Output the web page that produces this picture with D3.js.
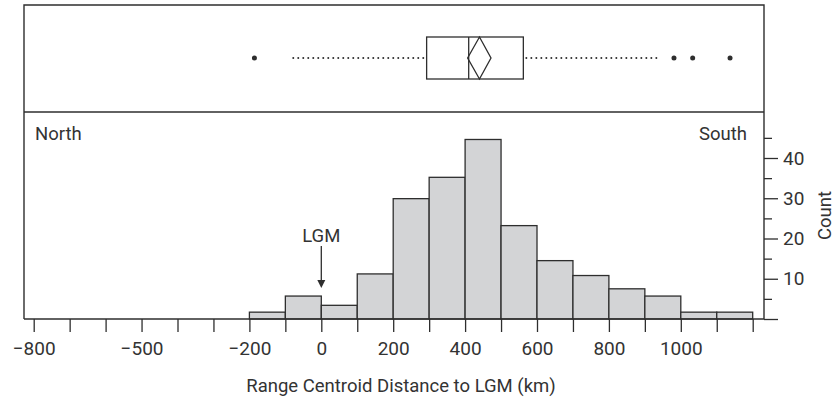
<!DOCTYPE html>
<html><head><meta charset="utf-8">
<script src="https://cdn.jsdelivr.net/npm/d3@7"></script>
<style>
body{margin:0;background:#fff}
text{font-family:Roboto,"DejaVu Sans",sans-serif;fill:#333;}
</style>
</head><body>
<svg id="c" width="835" height="400"></svg>
<script>
// ---- data ----
const binStarts = [-200,-100,0,100,200,300,400,500,600,700,800,900,1000,1100];
const binWidth = 100;
const counts = [1.7,5.7,3.4,11.2,29.9,35.2,44.6,23.2,14.5,10.8,7.5,5.7,1.7,1.7];
const xTickValues = d3.range(-800, 1201, 100);
const xTickLabels = [-800,-500,-200,0,200,400,600,800,1000];
const yTickValues = d3.range(0, 46, 5);
const yTickLabels = [10,20,30,40];
const boxQuartiles = [293, 410, 562];      // Q1, median, Q3
const whiskerEnds = [-78, 933];
const meanDiamond = [407, 440, 472];        // lower CI, mean, upper CI
const outliers = [-186, 981, 1033, 1137];
const sideLabels = ["North", "South"];
const lgmValue = 0;

// ---- layout ----
const svg = d3.select("#c");
const L = 24, R = 764, T = 5, D = 112, B = 319;
const x = d3.scaleLinear([-800, 1200], [33.7, 752.7]);
const y = d3.scaleLinear([0, 40], [319, 158]);
const ink = "#2e2e2e";
const fs = 18.5, tfs = 19;

// bars
svg.append("g").selectAll("rect").data(binStarts).join("rect")
  .attr("x", d => x(d))
  .attr("width", d => x(d + binWidth) - x(d))
  .attr("y", (d, i) => y(counts[i]))
  .attr("height", (d, i) => y(0) - y(counts[i]))
  .attr("fill", "#d3d4d6")
  .attr("stroke", ink).attr("stroke-width", 1.3);

// frame
const frame = svg.append("g").attr("stroke", ink).attr("stroke-width", 1.4).attr("fill", "none");
frame.append("path").attr("d", `M${L},${B}V${T}H${R}V${B}`);
frame.append("path").attr("d", `M${L},${D}H${R}`);
frame.append("path").attr("d", `M${L},${B}H${R}`);

// x axis
const xAxis = d3.axisBottom(x).tickValues(xTickValues).tickSize(13).tickPadding(10)
  .tickFormat(d => xTickLabels.includes(d) ? d3.format("")(d) : "");
const gx = svg.append("g").attr("transform", `translate(0,${B})`).call(xAxis);
gx.select(".domain").remove();
gx.selectAll(".tick line").attr("stroke", ink).attr("stroke-width", 1.3);
gx.selectAll(".tick text").attr("font-size", tfs).attr("font-family", "Roboto").attr("fill", "#333");

// y axis (right)
const yAxis = d3.axisRight(y).tickValues(yTickValues).tickSize(14).tickPadding(5)
  .tickFormat(d => yTickLabels.includes(d) ? d : "");
const gy = svg.append("g").attr("transform", `translate(${R},0)`).call(yAxis);
gy.select(".domain").remove();
gy.selectAll(".tick line").attr("stroke", ink).attr("stroke-width", 1.3)
  .attr("x2", d => (d % 10 === 0) ? 14 : 8);
gy.selectAll(".tick text").attr("font-size", tfs).attr("font-family", "Roboto").attr("fill", "#333");

// axis titles
svg.append("text").attr("x", 401).attr("y", 392).attr("text-anchor", "middle")
  .attr("font-size", fs).text("Range Centroid Distance to LGM (km)");
svg.append("text").attr("transform", `translate(831,${(D + B) / 2}) rotate(-90)`)
  .attr("text-anchor", "middle").attr("font-size", fs).text("Count");

// North / South
svg.append("text").attr("x", 35).attr("y", 140).attr("font-size", fs).text(sideLabels[0]);
svg.append("text").attr("x", 747).attr("y", 140).attr("text-anchor", "end").attr("font-size", fs).text(sideLabels[1]);

// LGM arrow
svg.append("text").attr("x", x(lgmValue)).attr("y", 242).attr("text-anchor", "middle")
  .attr("font-size", fs).text("LGM");
svg.append("line").attr("x1", x(lgmValue)).attr("x2", x(lgmValue)).attr("y1", 246).attr("y2", 281)
  .attr("stroke", ink).attr("stroke-width", 1.3);
svg.append("path").attr("d", `M${x(lgmValue) - 4},${280}L${x(lgmValue) + 4},${280}L${x(lgmValue)},${288}Z`)
  .attr("fill", ink);

// box plot
const cy = 58, hh = 21;
const bp = svg.append("g").attr("stroke", ink).attr("stroke-width", 1.3);
bp.append("line").attr("x1", x(whiskerEnds[0])).attr("x2", x(boxQuartiles[0]) - 2)
  .attr("y1", cy).attr("y2", cy).attr("stroke-dasharray", "0,5").attr("stroke-linecap", "round").attr("stroke-width", 2);
bp.append("line").attr("x1", x(boxQuartiles[2]) + 3).attr("x2", x(whiskerEnds[1]))
  .attr("y1", cy).attr("y2", cy).attr("stroke-dasharray", "0,5").attr("stroke-linecap", "round").attr("stroke-width", 2);
bp.append("rect").attr("x", x(boxQuartiles[0])).attr("width", x(boxQuartiles[2]) - x(boxQuartiles[0]))
  .attr("y", cy - hh).attr("height", 2 * hh).attr("fill", "none");
bp.append("line").attr("x1", x(boxQuartiles[1])).attr("x2", x(boxQuartiles[1]))
  .attr("y1", cy - hh).attr("y2", cy + hh);
bp.append("path").attr("fill", "none")
  .attr("d", `M${x(meanDiamond[0])},${cy}L${x(meanDiamond[1])},${cy - hh}L${x(meanDiamond[2])},${cy}L${x(meanDiamond[1])},${cy + hh}Z`);
svg.append("g").selectAll("circle").data(outliers).join("circle")
  .attr("cx", d => x(d)).attr("cy", cy).attr("r", 2.5).attr("fill", ink);
</script>
</body></html>
